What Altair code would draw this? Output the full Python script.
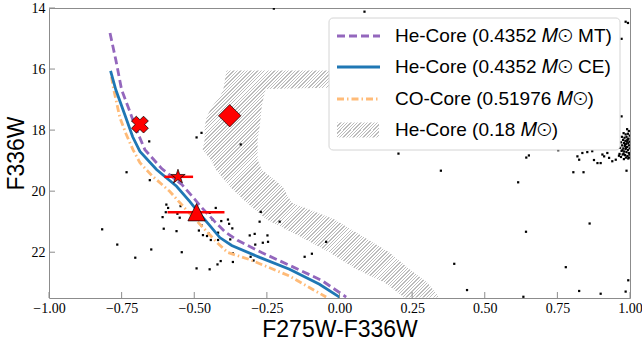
import altair as alt
import pandas as pd

# ---------------- data ----------------
x_ticks = [-1.0, -0.75, -0.5, -0.25, 0.0, 0.25, 0.5, 0.75, 1.0]
y_ticks = [14, 16, 18, 20, 22]

# He-Core 0.4352 MT (purple dashed)
mt_x = [-0.790, -0.770, -0.750, -0.724, -0.699, -0.670, -0.612, -0.543, -0.498, -0.474,
        -0.430, -0.392, -0.351, -0.268, -0.172, -0.062, 0.023]
mt_y = [14.82, 15.70, 16.68, 17.33, 17.99, 18.64, 19.26, 19.78, 20.27, 20.54,
        20.99, 21.35, 21.61, 22.01, 22.43, 22.92, 23.47]

# He-Core 0.4352 CE (blue solid)
ce_x = [-0.788, -0.770, -0.739, -0.712, -0.687, -0.630, -0.561, -0.515, -0.491, -0.447,
        -0.412, -0.371, -0.275, -0.172, -0.069, 0.000]
ce_y = [16.06, 16.68, 17.50, 18.22, 18.70, 19.29, 19.84, 20.34, 20.63, 21.12,
        21.52, 21.78, 22.17, 22.56, 23.05, 23.47]

# CO-Core 0.51976 (orange dash-dot)
co_x = [-0.785, -0.777, -0.756, -0.735, -0.711, -0.687, -0.646, -0.584, -0.522, -0.464,
        -0.419, -0.385, -0.309, -0.172, -0.046]
co_y = [16.25, 16.68, 17.59, 18.12, 18.64, 19.07, 19.49, 20.01, 20.67, 21.25,
        21.71, 22.01, 22.24, 22.78, 23.47]

# He-Core 0.18 region (hatched): for each F336W level, left and right colour edge
hatch_y = [16.05, 16.61, 16.65, 16.91, 17.24, 17.56, 17.89, 18.31, 18.64, 18.97,
           19.29, 19.85, 20.37, 20.93, 21.48, 22.01, 22.56, 22.99, 23.48]
hatch_xl = [-0.389, -0.399, -0.399, -0.412, -0.440, -0.457, -0.464, -0.464, -0.471, -0.443,
            -0.426, -0.378, -0.320, -0.251, -0.137, -0.034, 0.058, 0.155, 0.223]
hatch_xr = [-0.034, -0.034, -0.254, -0.261, -0.268, -0.271, -0.275, -0.282, -0.282, -0.282,
            -0.268, -0.196, -0.165, -0.017, 0.079, 0.172, 0.241, 0.302, 0.344]

# observed stars (black dots)
dots_x = [-0.226, 0.086, -0.655, -0.492, -0.475, -0.340, -0.733, -0.653, -0.817, -0.765,
          -0.703, -0.648, -0.596, -0.590, -0.598, -0.558, -0.547, -0.609, -0.550, -0.605,
          -0.561, -0.543, -0.492, -0.484, -0.426, -0.447, -0.437, -0.407, -0.384, -0.380,
          -0.369, -0.475, -0.470, -0.456, -0.450, -0.443, -0.418, -0.418, -0.376, -0.309,
          -0.292, -0.290, -0.264, -0.248, -0.246, -0.367, -0.306, -0.296, -0.367, -0.409,
          -0.420, -0.447, -0.271, -0.275, -0.206, -0.120, -0.095, -0.046, 0.349, 0.615,
          0.642, 0.861, 0.395, 0.779, 0.439, 0.633, 0.825, 0.899, 0.985, 0.994,
          0.805, 0.840, 0.988, 0.203, 0.652, 0.643, 0.753, 0.971, 0.971, 0.985, 0.993]
dots_y = [14.02, 14.12, 18.37, 18.24, 18.09, 18.47, 19.38, 19.64, 21.25, 21.75,
          22.18, 21.91, 20.44, 20.55, 20.69, 20.74, 20.49, 20.85, 20.87, 21.23,
          21.31, 22.00, 22.53, 21.29, 20.55, 20.71, 20.93, 20.98, 20.93, 21.07,
          21.22, 21.12, 21.44, 21.47, 21.39, 21.60, 21.36, 21.60, 21.58, 21.45,
          21.40, 21.75, 21.69, 21.45, 21.66, 22.04, 22.15, 22.27, 22.32, 22.29,
          22.40, 22.56, 20.68, 21.00, 21.00, 22.15, 22.05, 21.66, 19.33, 19.71,
          21.33, 21.06, 22.38, 22.49, 23.24, 23.46, 23.27, 23.36, 23.29, 22.92,
          19.38, 19.38, 19.33, 18.77, 18.83, 18.90, 18.66, 17.55, 15.01, 14.45, 14.49]

cluster_x = [0.819, 0.825, 0.836, 0.853, 0.870, 0.876, 0.888, 0.899, 0.905, 0.922,
             0.928, 0.939, 0.951, 0.962, 0.911,
             0.990, 0.996, 0.978, 0.985, 0.993, 0.999, 0.972, 0.981, 0.988, 0.995,
             0.976, 0.984, 0.991, 0.998, 0.969, 0.979, 0.987, 0.994, 0.973, 0.982,
             0.990, 0.997, 0.966, 0.977, 0.985, 0.993, 0.999, 0.971, 0.980, 0.988,
             0.996, 0.964, 0.975, 0.983, 0.991, 0.998, 0.969, 0.986, 0.994, 0.979,
             0.992, 0.986, 0.974, 0.996, 0.983, 0.989, 0.978]
cluster_y = [18.86, 18.97, 18.75, 18.72, 18.69, 18.98, 19.08, 19.08, 18.80, 18.75,
             18.91, 19.02, 18.97, 18.84, 18.86,
             17.97, 18.03, 18.10, 18.14, 18.12, 18.18, 18.22, 18.25, 18.22, 18.28,
             18.32, 18.35, 18.33, 18.38, 18.40, 18.42, 18.45, 18.43, 18.50, 18.52,
             18.55, 18.50, 18.58, 18.60, 18.62, 18.65, 18.60, 18.68, 18.70, 18.72,
             18.75, 18.78, 18.80, 18.82, 18.85, 18.80, 18.88, 18.90, 18.93, 18.95,
             18.30, 18.58, 18.66, 18.90, 18.48, 18.38, 18.77]

# red highlighted sources
cross_x, cross_y = [-0.687], [17.82]
diamond_x, diamond_y = [-0.378], [17.53]
star_x, star_y, star_lo, star_hi = [-0.556], [19.53], [-0.603], [-0.504]
tri_x, tri_y, tri_lo, tri_hi = [-0.492], [20.69], [-0.592], [-0.396]

legend_labels = ["He-Core (0.4352 𝑀⊙ MT)", "He-Core (0.4352 𝑀⊙ CE)",
                 "CO-Core (0.51976 𝑀⊙)", "He-Core (0.18 𝑀⊙)"]

# ---------------- layout / style ----------------
W, H = 581, 290
X_DOM, Y_DOM = [-1.0, 1.0], [14.0, 23.5]
FRAME = "#8c8c8c"
PURPLE, BLUE, ORANGE = "#9467bd", "#1f77b4", "#ffbb78"
HATCH_COLOR = "#bcbcbc"

xscale = alt.Scale(domain=X_DOM, nice=False, zero=False)
yscale = alt.Scale(domain=Y_DOM, nice=False, zero=False, reverse=True)
xaxis = alt.Axis(values=x_ticks, format=".2f", labelFont="Liberation Serif", labelFontSize=14,
                 labelColor="black", labelPadding=3, labelFlush=False, labelOverlap=False,
                 ticks=False, tickSize=0, domain=False, grid=False,
                 titleFont="Liberation Sans", titleFontSize=23, titleFontWeight="normal",
                 titleColor="black", titlePadding=3)
yaxis = alt.Axis(values=y_ticks, format="d", labelFont="Liberation Serif", labelFontSize=14,
                 labelColor="black", labelPadding=4, labelFlush=False, labelOverlap=False,
                 ticks=False, tickSize=0, domain=False, grid=False,
                 titleFont="Liberation Sans", titleFontSize=23, titleFontWeight="normal",
                 titleColor="black", titlePadding=3)


def X(f):
    return alt.X(f, type="quantitative", scale=xscale, axis=xaxis, title="F275W-F336W")


def Y(f):
    return alt.Y(f, type="quantitative", scale=yscale, axis=yaxis, title="F336W")


def hatch(n_px_w, n_px_h, spacing=3.4, frac=0.4, color=HATCH_COLOR):
    k = n_px_h / n_px_w
    alpha = (1 + k) / (1 + k * k)
    n = max(1, int(round(n_px_w * (1 + k) / spacing)))
    clear = "rgba(255,255,255,0)"
    stops = []
    for i in range(n):
        a, b, c = i / n, (i + frac) / n, (i + 1) / n
        stops += [{"offset": a, "color": color}, {"offset": b, "color": color},
                  {"offset": b, "color": clear}, {"offset": c, "color": clear}]
    return {"gradient": "linear", "x1": 0, "y1": 0, "x2": alpha, "y2": alpha * k, "stops": stops}


# ---------------- layers ----------------
hatch_df = pd.DataFrame({"y": hatch_y, "xl": hatch_xl, "xr": hatch_xr})
bw = (max(hatch_xr) - min(hatch_xl)) * W / (X_DOM[1] - X_DOM[0])
bh = (max(hatch_y) - min(hatch_y)) * H / (Y_DOM[1] - Y_DOM[0])
hatch_layer = alt.Chart(hatch_df).mark_area(orient="horizontal", clip=True,
                                             color=hatch(bw, bh)).encode(
    y=Y("y"), x=X("xl"), x2="xr")

dots_df = pd.DataFrame({"x": dots_x + cluster_x, "y": dots_y + cluster_y})
dots_layer = alt.Chart(dots_df).mark_square(size=5, color="black", opacity=1, clip=True).encode(
    x=X("x"), y=Y("y"))


def curve(xs, ys, color, dash=None):
    df = pd.DataFrame({"x": xs, "y": ys, "i": list(range(len(xs)))})
    kw = dict(color=color, strokeWidth=2.8, clip=True)
    if dash:
        kw["strokeDash"] = dash
    return alt.Chart(df).mark_line(**kw).encode(x=X("x"), y=Y("y"), order="i:Q")


co_layer = curve(co_x, co_y, ORANGE, [7, 3, 1.5, 3])
ce_layer = curve(ce_x, ce_y, BLUE)
mt_layer = curve(mt_x, mt_y, PURPLE, [8, 4])

err_df = pd.DataFrame({"y": star_y + tri_y, "lo": star_lo + tri_lo, "hi": star_hi + tri_hi})
err_layer = alt.Chart(err_df).mark_rule(color="red", strokeWidth=2.5).encode(
    x=X("lo"), x2="hi", y=Y("y"))

STAR = ("M0,-1 L0.225,-0.309 L0.951,-0.309 L0.363,0.118 L0.588,0.809 L0,0.382 "
        "L-0.588,0.809 L-0.363,0.118 L-0.951,-0.309 L-0.225,-0.309 Z")
TRI = "M0,-1 L1,1 L-1,1 Z"


def marker(xs, ys, shape, size, angle=0):
    df = pd.DataFrame({"x": xs, "y": ys})
    return alt.Chart(df).mark_point(shape=shape, size=size, angle=angle, filled=True,
                                    fill="red", stroke="black", strokeWidth=0.7,
                                    opacity=1).encode(x=X("x"), y=Y("y"))


cross_layer = marker(cross_x, cross_y, "cross", 290, 45)
diamond_layer = marker(diamond_x, diamond_y, "diamond", 500)
star_layer = marker(star_x, star_y, STAR, 230)
tri_layer = marker(tri_x, tri_y, TRI, 300)

# ---------------- legend (drawn by hand) ----------------
LX0, LX1, LY0, LY1 = 280, 571, 10, 142
rows = [28, 59, 91, 122]
sym0, sym1, tx = 288, 331, 346
one = pd.DataFrame({"a": [0]})

legend_layers = [
    alt.Chart(one).mark_rect(fill="white", fillOpacity=0.85, stroke="#d4d4d4", strokeWidth=1,
                             cornerRadius=4).encode(
        x=alt.value(LX0), x2=alt.value(LX1), y=alt.value(LY0), y2=alt.value(LY1)),
    alt.Chart(one).mark_rule(color=PURPLE, strokeWidth=2.8, strokeDash=[8, 4]).encode(
        x=alt.value(sym0), x2=alt.value(sym1), y=alt.value(rows[0])),
    alt.Chart(one).mark_rule(color=BLUE, strokeWidth=2.8).encode(
        x=alt.value(sym0), x2=alt.value(sym1), y=alt.value(rows[1])),
    alt.Chart(one).mark_rule(color=ORANGE, strokeWidth=2.8, strokeDash=[7, 3, 1.5, 3]).encode(
        x=alt.value(sym0), x2=alt.value(sym1), y=alt.value(rows[2])),
    alt.Chart(one).mark_rect(color=hatch(sym1 - sym0, 15)).encode(
        x=alt.value(sym0), x2=alt.value(sym1 - 1), y=alt.value(rows[3] - 7.5),
        y2=alt.value(rows[3] + 7.5)),
]
for lab, ry in zip(legend_labels, rows):
    legend_layers.append(
        alt.Chart(one).mark_text(align="left", baseline="middle", font="Liberation Sans",
                                 fontSize=19, color="black").encode(
            x=alt.value(tx), y=alt.value(ry), text=alt.value(lab)))

# inward tick marks
xt = alt.Chart(pd.DataFrame({"x": x_ticks})).mark_rule(color=FRAME, strokeWidth=1).encode(
    x=X("x"), y=alt.value(H), y2=alt.value(H - 6))
yt = alt.Chart(pd.DataFrame({"y": y_ticks})).mark_rule(color=FRAME, strokeWidth=1).encode(
    y=Y("y"), x=alt.value(0), x2=alt.value(6))

chart = alt.layer(
    hatch_layer, dots_layer, co_layer, ce_layer, mt_layer, xt, yt,
    err_layer, cross_layer, diamond_layer, star_layer, tri_layer,
    *legend_layers
).properties(
    width=W, height=H,
    autosize=alt.AutoSizeParams(type="none"),
    padding={"left": 49, "top": 8, "right": 12, "bottom": 43},
).configure(background="white").configure_view(stroke=FRAME, strokeWidth=1)

chart.save("out.html", embed_options={"renderer": "svg", "actions": False})
